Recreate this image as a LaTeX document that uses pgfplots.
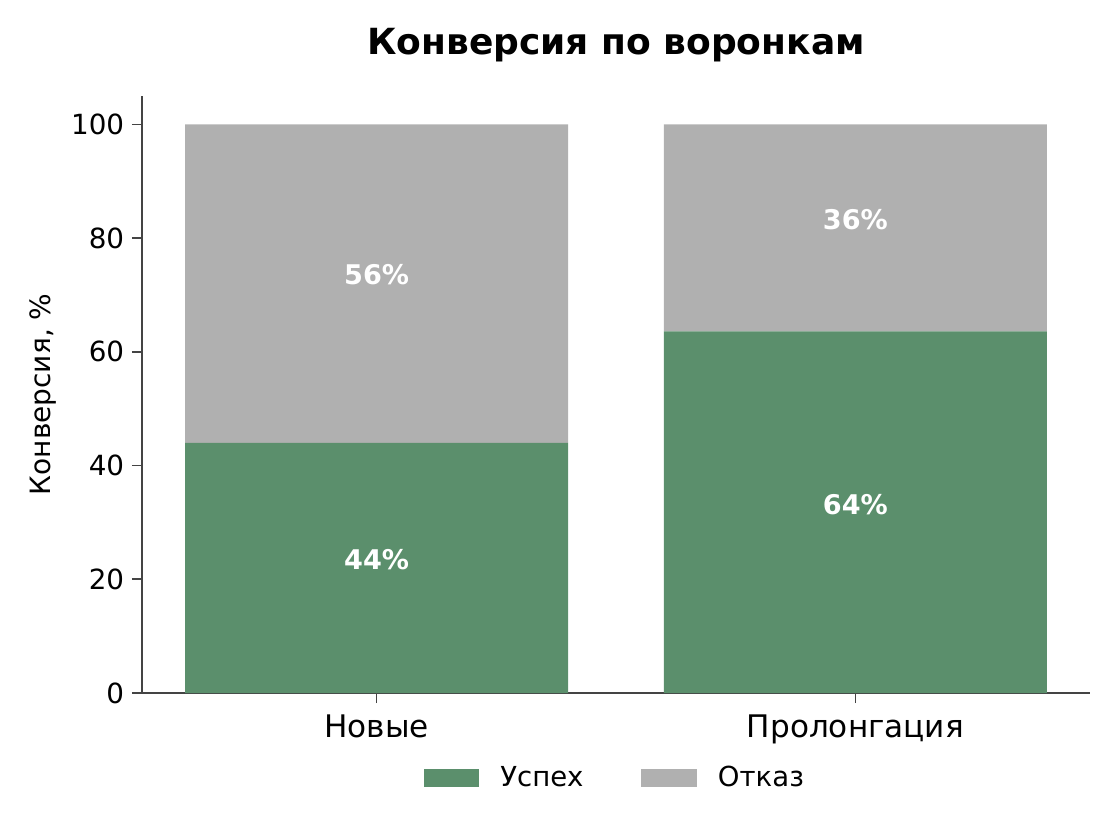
\documentclass[border=0pt]{standalone}
\usepackage{pgfplots}
\pgfplotsset{compat=1.18}
\usepackage{fontspec}
\setmainfont{DejaVu Sans}
\definecolor{succ}{RGB}{91,143,108}
\definecolor{fail}{RGB}{176,176,176}
\definecolor{spine}{RGB}{68,68,68}
\begin{document}
\begin{tikzpicture}
\useasboundingbox (0,0) rectangle (504pt,378pt);
\begin{axis}[
  at={(63.9pt,66.15pt)}, anchor=south west,
  scale only axis, width=426.6pt, height=268.65pt,
  ybar stacked, bar width=0.8,
  enlargelimits=false,
  xmin=-0.49, xmax=1.49, ymin=0, ymax=105,
  axis x line*=bottom, axis y line*=left,
  axis line style={spine, line width=0.9pt},
  xtick={0,1}, xticklabels={Новые,Пролонгация},
  ytick={0,20,40,60,80,100},
  tick align=outside, major tick length=4.5pt,
  tick style={spine, line width=0.8pt},
  x tick label style={font=\fontsize{14}{16}\selectfont, yshift=-2pt},
  y tick label style={font=\fontsize{12.5}{15}\selectfont},
  /pgf/number format/assume math mode=true,
  legend style={at={(0.5,-0.1424)}, anchor=center, draw=none, fill=none,
    legend columns=2, font=\fontsize{12.4}{14}\selectfont,
    /tikz/every odd column/.append style={column sep=7.5pt},
    /tikz/every even column/.append style={column sep=24pt}},
  legend image code/.code={\fill[#1,draw=none] (0pt,-4.25pt) rectangle (25pt,4.25pt);},
]
\addplot[fill=succ, draw=none] coordinates {(0,44) (1,63.6)};
\addplot[fill=fail, draw=none] coordinates {(0,56) (1,36.4)};
\legend{Успех, Отказ}
\coordinate (l1) at (axis cs:0,23.4);
\coordinate (l2) at (axis cs:0,73.6);
\coordinate (l3) at (axis cs:1,33.1);
\coordinate (l4) at (axis cs:1,83.3);
\end{axis}
\tikzset{bl/.style={text=white, font=\bfseries\fontsize{12.2}{14}\selectfont}}
\node[bl] at (l1) {44\%};
\node[bl] at (l2) {56\%};
\node[bl] at (l3) {64\%};
\node[bl] at (l4) {36\%};
\node[font=\bfseries\fontsize{16.2}{18}\selectfont] at (277.2pt,357.75pt) {Конверсия по воронкам};
\node[rotate=90, font=\fontsize{12.6}{14}\selectfont] at (19.5pt,200.5pt) {Конверсия, \%};
\end{tikzpicture}
\end{document}
